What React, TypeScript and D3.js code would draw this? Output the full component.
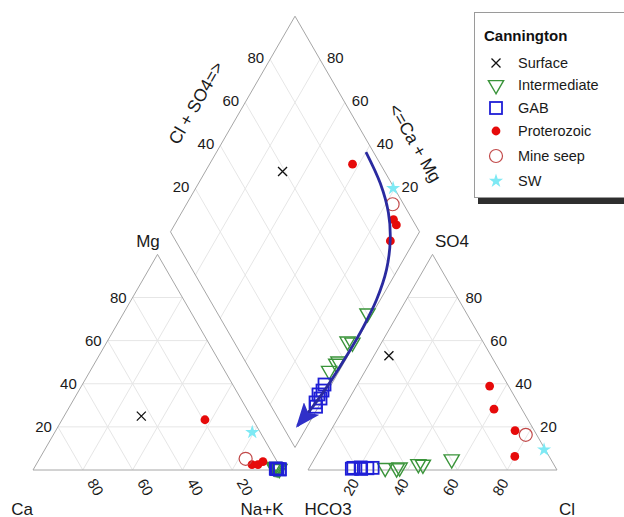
import React, { useEffect, useRef } from 'react';
import * as d3 from 'd3';

// each sample: cations % (Ca, Mg, Na+K) and anions % (HCO3, SO4, Cl)
type Sample = { ca: number; mg: number; na: number; hco3: number; so4: number; cl: number };

const surface: Sample[] = [
  { ca: 44, mg: 25, na: 31, hco3: 41, so4: 53, cl: 6 },
];

const intermediate: Sample[] = [
  { ca: 1.2, mg: 0.8, na: 98.0, hco3: 39.8, so4: 5.0, cl: 55.2 },
  { ca: 2.3, mg: 1.2, na: 96.5, hco3: 54.3, so4: 2.8, cl: 42.9 },
  { ca: 0.8, mg: 0.5, na: 98.7, hco3: 52.6, so4: 2.5, cl: 44.9 },
  { ca: 1.5, mg: 1.0, na: 97.5, hco3: 62.6, so4: 1.2, cl: 36.2 },
  { ca: 1.9, mg: 1.0, na: 97.1, hco3: 64.0, so4: 0.8, cl: 35.2 },
  { ca: 2.6, mg: 1.5, na: 95.9, hco3: 68.5, so4: 1.0, cl: 30.5 },
];

const gab: Sample[] = [
  { ca: 2.15, mg: 0.6, na: 97.25, hco3: 73.55, so4: 1.0, cl: 25.45 },
  { ca: 1.65, mg: 0.5, na: 97.85, hco3: 75.75, so4: 0.8, cl: 23.45 },
  { ca: 2.15, mg: 0.7, na: 97.15, hco3: 78.25, so4: 1.2, cl: 20.55 },
  { ca: 0.8, mg: 0.3, na: 98.9, hco3: 78.4, so4: 0.5, cl: 21.1 },
  { ca: 1.7, mg: 0.5, na: 97.8, hco3: 81.3, so4: 1.0, cl: 17.7 },
  { ca: 0.7, mg: 0.3, na: 99.0, hco3: 82.1, so4: 0.6, cl: 17.3 },
];

const proterozoic: Sample[] = [
  { ca: 19.3, mg: 23.3, na: 57.4, hco3: 11.2, so4: 28.2, cl: 60.6 },
  { ca: 10.8, mg: 2.5, na: 86.7, hco3: 7.6, so4: 38.9, cl: 53.5 },
  { ca: 8.4, mg: 2.5, na: 89.1, hco3: 7.7, so4: 18.3, cl: 74.0 },
  { ca: 5.7, mg: 3.9, na: 90.4, hco3: 13.8, so4: 6.3, cl: 79.9 },
];

const mineSeep: Sample[] = [
  { ca: 12.0, mg: 5.2, na: 82.8, hco3: 4.4, so4: 16.3, cl: 79.3 },
];

const sw: Sample[] = [
  { ca: 3.2, mg: 17.5, na: 79.3, hco3: 0.5, so4: 9.4, cl: 90.1 },
];

const ticks = [20, 40, 60, 80];

// trend arrow in diamond units: [Ca+Mg, Cl+SO4]
const trend: [number, number][] = [
  [40, 97], [27, 95.5], [17, 92], [10, 86.5], [4.5, 78], [1.5, 67],
  [0.5, 55], [0.5, 42], [1, 30], [2, 19], [4, 6],
];

const groups = [
  { name: 'Surface', data: surface, kind: 'x' },
  { name: 'Intermediate', data: intermediate, kind: 'tri' },
  { name: 'GAB', data: gab, kind: 'sq' },
  { name: 'Proterozoic', data: proterozoic, kind: 'dot' },
  { name: 'Mine seep', data: mineSeep, kind: 'ring' },
  { name: 'SW', data: sw, kind: 'star' },
];

const FONT = '"Liberation Sans", Arial, sans-serif';

const App = () => {
  const svgRef = useRef<SVGSVGElement>(null);

  useEffect(() => {
    const W = 624;
    const H = 517;
    const side = 249;
    const baseY = 470;
    const leftX = 33;
    const gap = 26;
    const h = (side * Math.sqrt(3)) / 2;
    const rightX = leftX + side + gap;
    const midX = leftX + side + gap / 2;
    const dBottom = baseY - (gap * Math.sqrt(3)) / 2;

    const t = d3.scaleLinear().domain([0, 100]).range([0, 1]);

    const cat = (na: number, mg: number): [number, number] => [
      leftX + side * t(na + mg / 2),
      baseY - h * t(mg),
    ];
    const an = (cl: number, so4: number): [number, number] => [
      rightX + side * t(cl + so4 / 2),
      baseY - h * t(so4),
    ];
    const dia = (cm: number, cs: number): [number, number] => [
      midX + (side / 2) * (t(cs) - t(cm)),
      dBottom - h * (t(cm) + t(cs)),
    ];

    const svg = d3.select(svgRef.current);
    svg.selectAll('*').remove();
    svg.attr('width', W).attr('height', H).style('background', '#fff');

    const defs = svg.append('defs');
    defs.append('marker')
      .attr('id', 'arrowhead')
      .attr('viewBox', '0 0 10 8')
      .attr('refX', 9)
      .attr('refY', 4)
      .attr('markerWidth', 25)
      .attr('markerHeight', 20)
      .attr('markerUnits', 'userSpaceOnUse')
      .attr('orient', 'auto')
      .append('path')
      .attr('d', 'M0,0 L10,4 L0,8 L2.2,4 Z')
      .attr('fill', '#3030c8');

    const grid = svg.append('g').attr('stroke', '#e6e6e6').attr('stroke-width', 1).attr('fill', 'none');
    const seg = (a: [number, number], b: [number, number]) =>
      grid.append('line').attr('x1', a[0]).attr('y1', a[1]).attr('x2', b[0]).attr('y2', b[1]);

    ticks.forEach(v => {
      // cation triangle
      seg(cat(0, v), cat(100 - v, v));
      seg(cat(100 - v, 0), cat(0, 100 - v));
      seg(cat(v, 0), cat(v, 100 - v));
      // anion triangle
      seg(an(0, v), an(100 - v, v));
      seg(an(100 - v, 0), an(0, 100 - v));
      seg(an(v, 0), an(v, 100 - v));
      // diamond
      seg(dia(v, 0), dia(v, 100));
      seg(dia(0, v), dia(100, v));
    });

    const outline = svg.append('g').attr('stroke', '#a6a6a6').attr('stroke-width', 1).attr('fill', 'none');
    const poly = (pts: [number, number][]) =>
      outline.append('path').attr('d', d3.line()(pts) + 'Z');
    poly([cat(0, 0), cat(100, 0), cat(0, 100)]);
    poly([an(0, 0), an(100, 0), an(0, 100)]);
    poly([dia(0, 0), dia(100, 0), dia(100, 100), dia(0, 100)]);

    const text = (x: number, y: number, s: string, size: number, anchor = 'middle', rot = 0) =>
      svg.append('text')
        .attr('transform', `translate(${x},${y}) rotate(${rot})`)
        .attr('text-anchor', anchor)
        .attr('dominant-baseline', 'central')
        .style('font-family', FONT)
        .style('font-size', `${size}px`)
        .attr('fill', '#1a1a1a')
        .text(s);

    ticks.forEach(v => {
      const pm = cat(0, v);
      text(pm[0] - 6, pm[1], String(v), 15, 'end');
      const pc = cat(100 - v, 0);
      text(pc[0] + 13, pc[1] + 17, String(v), 15, 'middle', 60);
      const ps = an(100 - v, v);
      text(ps[0] + 8, ps[1], String(v), 15, 'start');
      const pl = an(v, 0);
      text(pl[0] - 7, pl[1] + 17, String(v), 15, 'middle', -60);
      const pu = dia(100, v);
      text(pu[0] - 6, pu[1] - 2, String(v), 15, 'end');
      const pr = dia(v, 100);
      text(pr[0] + 7, pr[1] - 2, String(v), 15, 'start');
    });

    text(148, 241, 'Mg', 17);
    text(452, 241, 'SO4', 17);
    text(22, 509, 'Ca', 17);
    text(262, 509, 'Na+K', 17);
    text(328, 509, 'HCO3', 17);
    text(567, 509, 'Cl', 17);
    text(196, 103, 'Cl + SO4=>', 17.5, 'middle', -60);
    text(415, 143, '<=Ca + Mg', 17.5, 'middle', 60);

    const drawMark = (g: any, kind: string, x: number, y: number) => {
      if (kind === 'x') {
        g.append('path')
          .attr('d', `M${x - 4.5},${y - 4.5}L${x + 4.5},${y + 4.5}M${x - 4.5},${y + 4.5}L${x + 4.5},${y - 4.5}`)
          .attr('stroke', '#111').attr('stroke-width', 1.3).attr('fill', 'none');
      } else if (kind === 'tri') {
        g.append('path')
          .attr('d', d3.symbol(d3.symbolTriangle, 100)())
          .attr('transform', `translate(${x},${y}) rotate(180)`)
          .attr('stroke', '#3a943a').attr('stroke-width', 1.4).attr('fill', 'none');
      } else if (kind === 'sq') {
        g.append('rect')
          .attr('x', x - 6).attr('y', y - 6).attr('width', 12).attr('height', 12)
          .attr('stroke', '#1f1fd6').attr('stroke-width', 1.8).attr('fill', 'none');
      } else if (kind === 'dot') {
        g.append('circle').attr('cx', x).attr('cy', y).attr('r', 4.4).attr('fill', '#e60a0a');
      } else if (kind === 'ring') {
        g.append('circle').attr('cx', x).attr('cy', y).attr('r', 6.5)
          .attr('stroke', '#c24a4a').attr('stroke-width', 1.2).attr('fill', 'none');
      } else if (kind === 'star') {
        g.append('path')
          .attr('d', d3.symbol(d3.symbolStar, 62)())
          .attr('transform', `translate(${x},${y})`)
          .attr('fill', '#7ee9f4');
      }
    };

    const pts = svg.append('g');
    groups.forEach(gr => {
      gr.data.forEach(d => {
        const c = cat(d.na, d.mg);
        const a = an(d.cl, d.so4);
        const m = dia(d.ca + d.mg, d.cl + d.so4);
        drawMark(pts, gr.kind, c[0], c[1]);
        drawMark(pts, gr.kind, a[0], a[1]);
        drawMark(pts, gr.kind, m[0], m[1]);
      });
    });

    const arrowLine = d3.line().curve(d3.curveCatmullRom.alpha(0.5));
    svg.append('path')
      .attr('d', arrowLine(trend.map(p => dia(p[0], p[1]))))
      .attr('fill', 'none')
      .attr('stroke', '#2a2aa0')
      .attr('stroke-width', 2.8)
      .attr('marker-end', 'url(#arrowhead)');

    // legend
    const lg = svg.append('g');
    lg.append('rect').attr('x', 478).attr('y', 17).attr('width', 160).attr('height', 187).attr('fill', '#2e2e2e');
    lg.append('rect').attr('x', 474.5).attr('y', 12.5).attr('width', 160).attr('height', 185)
      .attr('fill', '#fff').attr('stroke', '#9a9a9a');
    svg.append('text')
      .attr('x', 484).attr('y', 35)
      .attr('dominant-baseline', 'central')
      .style('font-family', FONT).style('font-size', '15px').style('font-weight', 'bold')
      .attr('fill', '#111')
      .text('Cannington');
    const rowY = [63, 85, 108, 131, 156, 181];
    groups.forEach((gr, i) => {
      drawMark(lg, gr.kind, 496, rowY[i]);
      text(518, rowY[i], gr.name, 14.5, 'start');
    });
  }, []);

  return (
    <div style={{ position: 'absolute', left: 0, top: 0 }}>
      <svg ref={svgRef}></svg>
    </div>
  );
};

export default App;
